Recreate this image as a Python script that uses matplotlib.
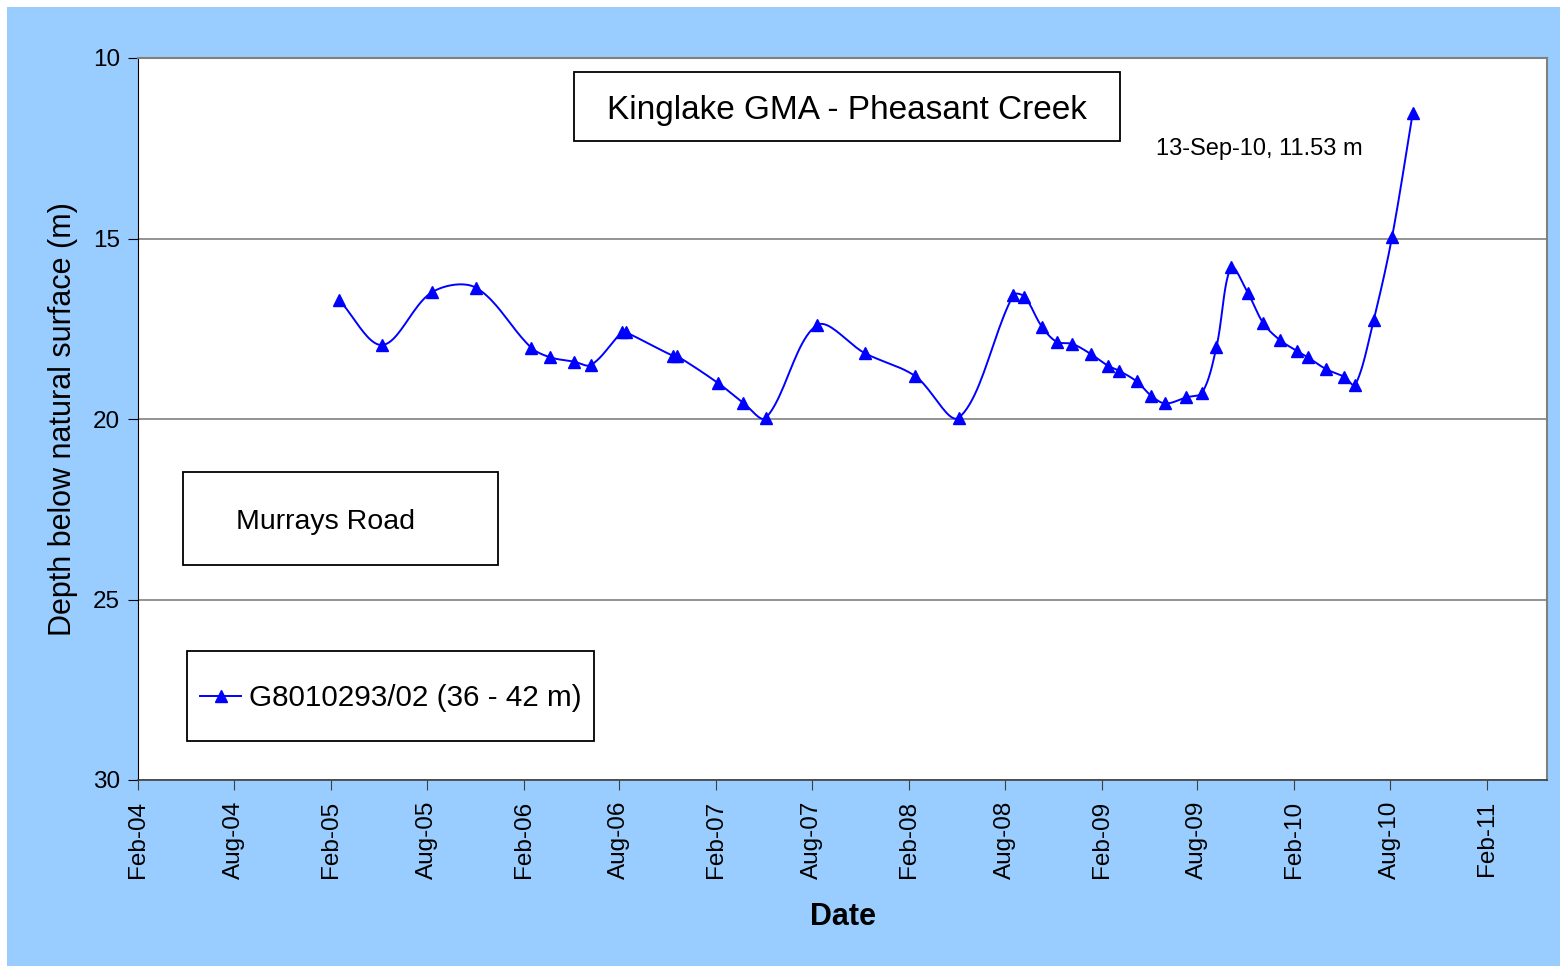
import numpy as np
import matplotlib
matplotlib.use("Agg")
import matplotlib.pyplot as plt
import matplotlib.dates as mdates
from matplotlib.patches import Rectangle

plt.rcParams['font.family'] = ['Liberation Sans', 'DejaVu Sans']

# bore G8010293/02 readings
dates = ['2005-02-16', '2005-05-09', '2005-08-11', '2005-11-02',
         '2006-02-15', '2006-03-23', '2006-05-07', '2006-06-09', '2006-08-06', '2006-08-14',
         '2006-11-11', '2006-11-18',
         '2007-02-05', '2007-03-24', '2007-05-06', '2007-08-11', '2007-11-10',
         '2008-02-13', '2008-05-06', '2008-08-17', '2008-09-07', '2008-10-10', '2008-11-07',
         '2008-12-07',
         '2009-01-11', '2009-02-13', '2009-03-05', '2009-04-08', '2009-05-05', '2009-06-01',
         '2009-07-11', '2009-08-10', '2009-09-06', '2009-10-04', '2009-11-05', '2009-12-04',
         '2010-01-04', '2010-02-05', '2010-02-26', '2010-04-02', '2010-05-06', '2010-05-27',
         '2010-07-01', '2010-08-05', '2010-09-13']
depths = [16.70, 17.95, 16.49, 16.36,
          18.02, 18.29, 18.41, 18.50, 17.60, 17.60, 18.25, 18.25,
          19.01, 19.55, 19.97, 17.40, 18.18,
          18.81, 19.96, 16.57, 16.61, 17.44, 17.86, 17.92,
          18.20, 18.53, 18.66, 18.96, 19.35, 19.57, 19.40, 19.27, 18.01, 15.80, 16.52, 17.35,
          17.81, 18.11, 18.29, 18.62, 18.83, 19.06, 17.26, 14.95, 11.53]
series_label = 'G8010293/02 (36 - 42 m)'

x = mdates.date2num(np.array(dates, dtype='datetime64[D]'))
y = np.array(depths)


# smoothed line like excel, tangents weighted by segment length so short
# segments don't overshoot. kx/ky scale data to roughly screen pixels.
def smooth(px, py, kx=0.5276, ky=36.1, n=24):
    P = np.column_stack([px * kx, py * ky])
    d = np.hypot(*np.diff(P, axis=0).T)
    m = np.zeros_like(P)
    for i in range(len(P)):
        if i == 0:
            m[i] = (P[1] - P[0]) / d[0]
        elif i == len(P) - 1:
            m[i] = (P[-1] - P[-2]) / d[-1]
        else:
            m[i] = (P[i + 1] - P[i - 1]) / (d[i - 1] + d[i])
    out = []
    t = np.linspace(0, 1, n)[:, None]
    for i in range(len(P) - 1):
        p1, p2 = P[i], P[i + 1]
        b1 = p1 + m[i] * d[i] / 3
        b2 = p2 - m[i + 1] * d[i] / 3
        seg = ((1 - t) ** 3) * p1 + 3 * ((1 - t) ** 2) * t * b1 + 3 * (1 - t) * t ** 2 * b2 + t ** 3 * p2
        out.append(seg)
    out = np.vstack(out)
    return out[:, 0] / kx, out[:, 1] / ky


sx, sy = smooth(x, y)

fig = plt.figure(figsize=(15.6, 9.66), dpi=100)
fig.patches.append(Rectangle((7 / 1560, 0), 1, 1 - 7 / 966, transform=fig.transFigure,
                             facecolor='#99CCFF', edgecolor='none', zorder=-1))
ax = fig.add_axes([138 / 1560, 1 - 780 / 966, (1547 - 138) / 1560, (780 - 58) / 966])
ax.set_facecolor('white')

ax.plot(sx, sy, color='#0000FF', lw=1.4, zorder=3)
ax.plot(x, y, ls='none', marker='^', ms=8, color='#0000FF', zorder=4)
# proxy for legend
ax.plot([], [], color='#0000FF', lw=1.4, marker='^', ms=8, label=series_label)

ax.set_ylim(30, 10)
ax.set_yticks([10, 15, 20, 25, 30])
x0 = mdates.date2num(np.datetime64('2004-02-01'))
ax.set_xlim(x0, x0 + (1547 - 138) / 0.5276)
ax.xaxis.set_major_locator(mdates.MonthLocator(bymonth=[2, 8], bymonthday=1))
ax.xaxis.set_major_formatter(mdates.DateFormatter('%b-%y'))

ax.grid(axis='y', color='#808080', lw=1.2)
ax.set_axisbelow(True)
for s in ['top', 'right']:
    ax.spines[s].set_color('#808080')
    ax.spines[s].set_linewidth(1.5)
ax.spines['left'].set_color('black')
ax.spines['bottom'].set_color('#404040')
ax.spines['bottom'].set_linewidth(1.2)

ax.tick_params(axis='x', labelrotation=90, labelsize=17.5, length=7, direction='out', pad=8, color='#404040')
ax.tick_params(axis='y', labelsize=17.5, length=7, direction='out', pad=6)

ax.set_ylabel('Depth below natural surface (m)', fontsize=22)
ax.yaxis.set_label_coords(-0.0426, 0.5)
ax.set_xlabel('Date', fontsize=22, fontweight='bold')
ax.xaxis.set_label_coords(0.5, -0.19)
ax.xaxis.label.set_va('center')

# title box
ax.add_patch(Rectangle((0.3094, 0.885), 0.697 - 0.3094, 0.9806 - 0.885, transform=ax.transAxes,
                       facecolor='white', edgecolor='black', lw=1.3, zorder=5))
ax.text((0.3094 + 0.697) / 2, (0.885 + 0.9806) / 2 - 0.005, 'Kinglake GMA - Pheasant Creek', fontsize=24,
        ha='center', va='center', transform=ax.transAxes, zorder=6)

# site box
ax.add_patch(Rectangle((0.0319, 0.2978), 0.2555 - 0.0319, 0.4266 - 0.2978, transform=ax.transAxes,
                       facecolor='white', edgecolor='black', lw=1.3, zorder=5))
ax.text((236 - 138) / 1409, (0.2978 + 0.4266) / 2 - 0.005, 'Murrays Road', fontsize=20.5,
        ha='left', va='center', transform=ax.transAxes, zorder=6)

ax.text(0.7225, 0.874, '13-Sep-10, 11.53 m', fontsize=17, ha='left', va='center',
        transform=ax.transAxes)

# legend box
ax.add_patch(Rectangle((0.0348, 0.054), 0.3236 - 0.0348, 0.1787 - 0.054, transform=ax.transAxes,
                       facecolor='white', edgecolor='black', lw=1.3, zorder=5))
leg = ax.legend(loc='center left', bbox_to_anchor=((200 - 138) / 1409, 0.113), fontsize=21.3,
                frameon=False, borderpad=0, handlelength=1.4, handletextpad=0.27,
                borderaxespad=0)
leg.set_zorder(6)

fig.savefig('out.png', dpi=100, facecolor='white')
